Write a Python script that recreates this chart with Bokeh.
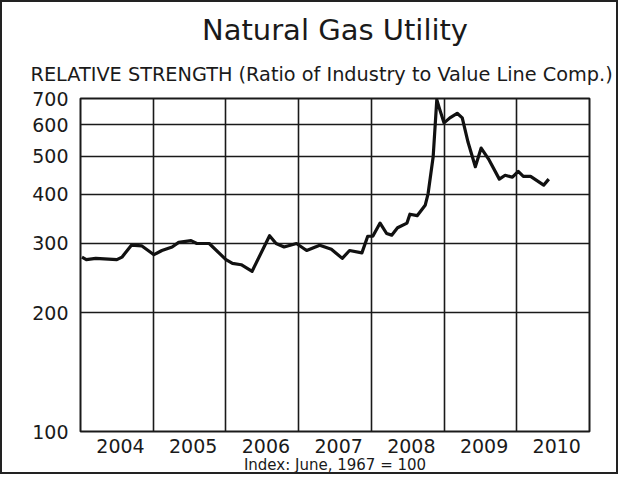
from bokeh.plotting import figure
from bokeh.models import FixedTicker, Title, BasicTickFormatter, CustomJSTickFormatter
from bokeh.embed import file_html
from bokeh.resources import INLINE

# Relative strength series (decimal year, index value)
dates = [2004.02, 2004.08, 2004.21, 2004.50, 2004.57, 2004.70, 2004.84, 2005.01,
         2005.12, 2005.26, 2005.35, 2005.52, 2005.60, 2005.77, 2006.00, 2006.09,
         2006.21, 2006.36, 2006.60, 2006.69, 2006.80, 2006.97, 2007.11, 2007.29,
         2007.45, 2007.60, 2007.70, 2007.87, 2007.95, 2008.02, 2008.12, 2008.21,
         2008.28, 2008.36, 2008.49, 2008.53, 2008.63, 2008.74, 2008.78, 2008.85,
         2008.90, 2008.94, 2009.00, 2009.08, 2009.18, 2009.25, 2009.33, 2009.43,
         2009.51, 2009.61, 2009.76, 2009.84, 2009.94, 2010.02, 2010.09, 2010.19,
         2010.37, 2010.44]
values = [277, 273, 275, 273, 277, 297, 296, 281,
          288, 294, 302, 305, 300, 300, 273, 267,
          265, 255, 314, 300, 294, 300, 288, 297,
          290, 275, 288, 284, 313, 313, 338, 318,
          315, 329, 338, 356, 353, 375, 401, 498,
          695, 657, 607, 625, 642, 625, 542, 470,
          524, 492, 437, 447, 442, 457, 444, 444,
          422, 437]

year_labels = ["2004", "2005", "2006", "2007", "2008", "2009", "2010"]
y_ticks = [100, 200, 300, 400, 500, 600, 700]

FONT = "DejaVu Sans"
INK = "#1a1a1a"

years = [int(y) for y in year_labels]

p = figure(width=618, height=474,
           x_range=(years[0], years[-1] + 1), y_range=(y_ticks[0], y_ticks[-1]),
           y_axis_type="log", output_backend="svg", toolbar_location=None,
           title=None,
           min_border_left=78, min_border_right=31,
           min_border_top=96, min_border_bottom=38)
p.styles = {"border": "2px solid #222"}

p.background_fill_color = "white"
p.border_fill_color = "white"
p.outline_line_color = INK
p.outline_line_width = 2

# x axis: year labels centred in each year column
p.xaxis.ticker = FixedTicker(ticks=[y + 0.55 for y in years], minor_ticks=[])
p.xaxis.formatter = CustomJSTickFormatter(code="return Math.floor(tick).toString();")
p.xaxis.axis_line_color = None
p.xaxis.major_tick_line_color = None
p.xaxis.minor_tick_line_color = None
p.xaxis.major_label_text_font = FONT
p.xaxis.major_label_text_font_size = "19px"
p.xaxis.major_label_text_color = INK
p.xaxis.major_label_standoff = 1
p.xaxis.axis_label = "Index: June, 1967 = 100"
p.xaxis.axis_label_text_font = FONT
p.xaxis.axis_label_text_font_size = "15px"
p.xaxis.axis_label_text_font_style = "normal"
p.xaxis.axis_label_text_color = INK
p.xaxis.axis_label_standoff = 0

# y axis (log)
p.yaxis.ticker = FixedTicker(ticks=y_ticks, minor_ticks=[])
p.yaxis.formatter = BasicTickFormatter()
p.yaxis.axis_line_color = None
p.yaxis.major_tick_line_color = None
p.yaxis.minor_tick_line_color = None
p.yaxis.major_label_text_font = FONT
p.yaxis.major_label_text_font_size = "19px"
p.yaxis.major_label_text_color = INK
p.yaxis.major_label_standoff = 6

# grid
p.xgrid.ticker = FixedTicker(ticks=years[1:], minor_ticks=[])
p.xgrid.grid_line_color = INK
p.xgrid.grid_line_width = 1.6
p.ygrid.ticker = FixedTicker(ticks=y_ticks[1:-1], minor_ticks=[])
p.ygrid.grid_line_color = INK
p.ygrid.grid_line_width = 1.6

p.line(dates, values, line_width=3.2, line_color="#111111", line_join="round")

sub = Title(text="RELATIVE STRENGTH (Ratio of Industry to Value Line Comp.)",
            align="left", offset=-50, text_font=FONT, text_font_size="19.3px",
            text_font_style="normal", text_color=INK, standoff=25)
main = Title(text="Natural Gas Utility", align="center", offset=-3,
             text_font=FONT, text_font_size="29px", text_font_style="normal",
             text_color=INK, standoff=3)
p.add_layout(sub, "above")
p.add_layout(main, "above")

open("out.html", "w").write(file_html(p, INLINE))
